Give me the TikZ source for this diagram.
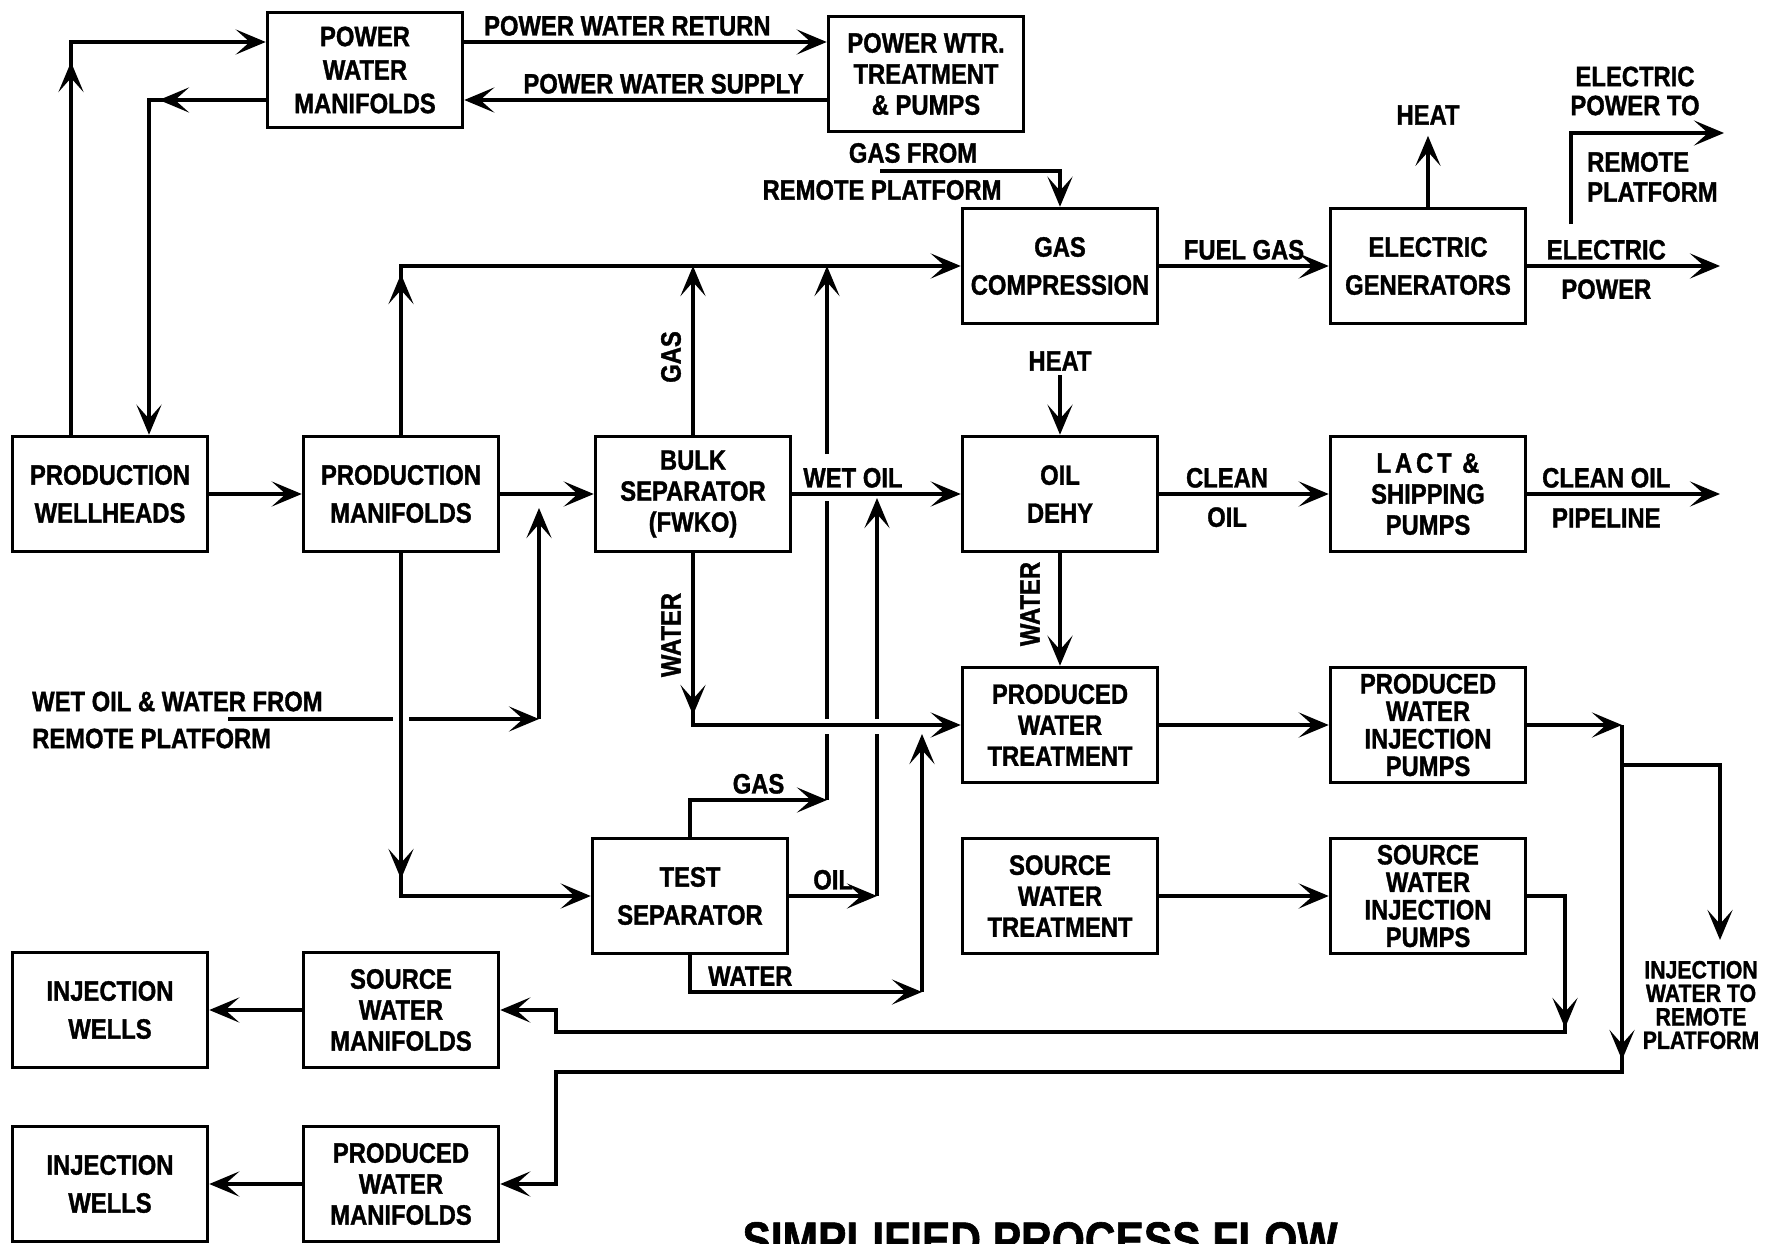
\documentclass[tikz,border=0pt]{standalone}
\usepackage{fontspec}
\setmainfont[FakeStretch=0.85, BoldFeatures={FakeBold=1.2}]{Liberation Sans}
\usetikzlibrary{arrows.meta}

\tikzset{
  unit/.style={draw, line width=3.5pt, minimum width=195pt, minimum height=115pt,
    inner sep=2pt, align=center, font=\bfseries\fontsize{28}{31}\selectfont},
  two/.style={font=\bfseries\fontsize{28}{38}\selectfont},
  four/.style={font=\bfseries\fontsize{28}{27.5}\selectfont},
  tag/.style={inner sep=4pt, align=center, font=\bfseries\fontsize{28}{31}\selectfont},
  pipe/.style={line width=4.5pt},
  flow/.style={pipe, -{Stealth[length=30pt, width=25pt, inset=14pt]}},
}

\begin{document}
\begin{tikzpicture}[x=1pt, y=-1pt]
    \useasboundingbox (0,0) rectangle (1778,1244);
    \clip (0,0) rectangle (1778,1244);

    % Process units
    \node[unit, font=\bfseries\fontsize{28}{33.5}\selectfont] (pwm) at (365,70) {POWER\\WATER\\MANIFOLDS};
    \node[unit] (pwt) at (926,74) {POWER WTR.\\TREATMENT\\\& PUMPS};
    \node[unit, two] (gc) at (1060,266) {GAS\\COMPRESSION};
    \node[unit, two] (eg) at (1428,266) {ELECTRIC\\GENERATORS};

    \node[unit, two] (pwh) at (110,494) {PRODUCTION\\WELLHEADS};
    \node[unit, two] (pm) at (401,494) {PRODUCTION\\MANIFOLDS};
    \node[unit] (bulk) at (693,494) {BULK\\SEPARATOR\\(FWKO)};
    \node[unit, two] (dehy) at (1060,494) {OIL\\DEHY};
    \node[unit] (lact) at (1428,494) {{\addfontfeature{LetterSpace=14}LACT \&}\\SHIPPING\\PUMPS};

    \node[unit] (pwtr) at (1060,725) {PRODUCED\\WATER\\TREATMENT};
    \node[unit, four] (pwip) at (1428,725) {PRODUCED\\WATER\\INJECTION\\PUMPS};

    \node[unit, two] (test) at (690,896) {TEST\\SEPARATOR};
    \node[unit] (swt) at (1060,896) {SOURCE\\WATER\\TREATMENT};
    \node[unit, four] (swip) at (1428,896) {SOURCE\\WATER\\INJECTION\\PUMPS};

    \node[unit, two] (iwa) at (110,1010) {INJECTION\\WELLS};
    \node[unit] (swm) at (401,1010) {SOURCE\\WATER\\MANIFOLDS};
    \node[unit, two] (iwb) at (110,1184) {INJECTION\\WELLS};
    \node[unit] (prwm) at (401,1184) {PRODUCED\\WATER\\MANIFOLDS};

    % Power water loop
    \coordinate (pwup) at (71,42);
    \coordinate (pwdn) at (149,100);
    \draw[flow] (pwh.north -| pwup) -- (pwup) -- (pwup -| pwm.west);
    \draw[flow, shorten >=20pt] (pwh.north -| pwup) -- (pwup);
    \draw[flow] (pwdn -| pwm.west) -- (pwdn) -- (pwdn |- pwh.north);
    \draw[flow, shorten >=10pt] (pwdn -| pwm.west) -- (pwdn);
    \draw[flow] (pwup -| pwm.east) -- (pwup -| pwt.west)
        node[pos=0.45, above, tag] (lret) {POWER WATER RETURN};
    \draw[flow] (pwdn -| pwt.west) -- (pwdn -| pwm.east)
        node[pos=0.45, above, tag] (lsup) {POWER WATER SUPPLY};

    % Gas header to compression
    \draw[flow] (pm.north) |- (gc.west);
    \draw[flow, shorten >=8pt] (pm.north) -- (pm.north |- gc.west);
    \draw[flow] (bulk.north) -- (bulk.north |- gc.west);
    \node[tag, rotate=90] (lbg) at (671,357) {GAS};

    % Gas from remote platform
    \coordinate (gfr) at (880,171);
    \draw[flow] (gfr) -| (gc.north);
    \node[tag] (lgf) at (913,153) {GAS FROM};
    \node[tag] (lgr) at (882,190) {REMOTE PLATFORM};

    % Main oil train
    \draw[flow] (pwh.east) -- (pm.west);
    \draw[flow] (pm.east) -- (bulk.west);
    \draw[flow] (bulk.east) -- (dehy.west)
        node[pos=0.36, above, tag] (lwo) {WET OIL};
    \draw[flow] (dehy.east) -- (lact.west)
        node[pos=0.4, above, tag] (lco) {CLEAN}
        node[pos=0.4, below=7pt, tag] (lcoo) {OIL};
    \coordinate (cop) at (1720,494);
    \draw[flow] (lact.east) -- (cop)
        node[pos=0.41, above, tag] (lcl) {CLEAN OIL}
        node[pos=0.41, below=8pt, tag] (lpl) {PIPELINE};

    % Heat and water at the dehy
    \node[tag] (hdehy) at (1060,361) {HEAT};
    \draw[flow] (hdehy) -- (dehy.north);
    \draw[flow] (dehy.south) -- (pwtr.north);
    \node[tag, rotate=90] (ldw) at (1030,604) {WATER};

    % Bulk separator water
    \draw[flow] (bulk.south) |- (pwtr.west);
    \draw[flow, shorten >=10pt] (bulk.south) -- (bulk.south |- pwtr.west);
    \node[tag, rotate=90] (lbw) at (671,635) {WATER};

    % Wet oil and water from remote platform
    \coordinate (rwo) at (228,719);
    \coordinate (rwj) at (539,719);
    \coordinate (rwx) at (pm.south |- rwo);
    \draw[pipe] (rwo) -- ([xshift=-8pt]rwx);
    \draw[flow] ([xshift=8pt]rwx) -- (rwj);
    \draw[flow, shorten >=14pt] (rwj) -- (rwj |- pm.east);
    \node[tag, align=left, anchor=west, inner sep=0pt,
        font=\bfseries\fontsize{28}{37}\selectfont] (lrw) at (32,720)
        {WET OIL \& WATER FROM\\REMOTE PLATFORM};

    % Test separator
    \draw[flow] (pm.south) |- (test.west);
    \draw[flow, shorten >=17pt] (pm.south) -- (pm.south |- test.west);
    \coordinate (tgas) at (827,800);
    \coordinate (toil) at (877,896);
    \coordinate (twat) at (922,992);
    \coordinate (xga) at (tgas |- pwtr.west);
    \coordinate (xgb) at (tgas |- dehy.west);
    \coordinate (xoa) at (toil |- pwtr.west);
    \draw[flow] (test.north) |- (tgas) node[pos=0.75, above, tag] (ltg) {GAS};
    \draw[pipe] (tgas) -- ([yshift=-9pt]xga);
    \draw[pipe] ([yshift=6pt]xga) -- ([yshift=-7pt]xgb);
    \draw[flow] ([yshift=40pt]xgb) -- (tgas |- gc.west);
    \draw[flow] (test.east) -- (toil) node[midway, above, tag] (lto) {OIL};
    \draw[pipe] (toil) -- ([yshift=-9pt]xoa);
    \draw[flow, shorten >=4pt] ([yshift=6pt]xoa) -- (toil |- dehy.west);
    \draw[flow] (test.south) |- (twat) node[pos=0.63, above, tag] (ltw) {WATER};
    \draw[flow, shorten >=9pt] (twat) -- (twat |- pwtr.west);

    % Fuel gas and electric power
    \draw[flow] (gc.east) -- (eg.west) node[midway, above, tag] (lfg) {FUEL GAS};
    \node[tag] (heg) at (1428,115) {HEAT};
    \draw[flow, shorten >=7pt] (eg.north) -- (heg);
    \coordinate (ep) at (1720,266);
    \draw[flow] (eg.east) -- (ep)
        node[pos=0.41, above, tag] (lel) {ELECTRIC}
        node[pos=0.41, below=7pt, tag] (lpw) {POWER};
    \coordinate (epr) at (1571,224);
    \coordinate (epe) at (1724,133);
    \draw[flow] (epr) |- (epe);
    \node[tag, font=\bfseries\fontsize{28}{29}\selectfont] (lept) at (1635,91)
        {ELECTRIC\\POWER TO};
    \node[tag, align=left, anchor=west, inner sep=0pt,
        font=\bfseries\fontsize{28}{30}\selectfont] (lepr) at (1587,177)
        {REMOTE\\PLATFORM};

    % Produced water injection
    \draw[flow] (pwtr.east) -- (pwip.west);
    \coordinate (pwi) at (1622,725);
    \coordinate (pwr) at (1720,765);
    \coordinate (iwr) at (1720,940);
    \coordinate (pwb) at (1622,1072);
    \coordinate (pwc) at (556,1072);
    \draw[flow] (pwip.east) -- (pwi);
    \draw[flow] (pwi) -- (pwb) -- (pwc) |- (prwm.east);
    \draw[flow, shorten >=12pt] (pwi) -- (pwb);
    \draw[flow] (pwr -| pwi) -- (pwr) -- (iwr);
    \node[tag, font=\bfseries\fontsize{25}{23.5}\selectfont] (liwr) at (1701,1005)
        {INJECTION\\WATER TO\\REMOTE\\PLATFORM};

    % Source water injection
    \draw[flow] (swt.east) -- (swip.west);
    \coordinate (swa) at (1565,1032);
    \coordinate (swb) at (556,1032);
    \draw[flow] (swip.east) -| (swa) -- (swb) |- (swm.east);
    \draw[flow, shorten >=4pt] (swip.east) -| (swa);

    % To the injection wells
    \draw[flow] (swm.west) -- (iwa.east);
    \draw[flow] (prwm.west) -- (iwb.east);

    % Title, cut off at the lower edge
    \node[anchor=base, inner sep=0pt, font=\bfseries\fontsize{50}{50}\selectfont]
        (title) at (1040,1257) {SIMPLIFIED PROCESS FLOW};
\end{tikzpicture}
\end{document}
